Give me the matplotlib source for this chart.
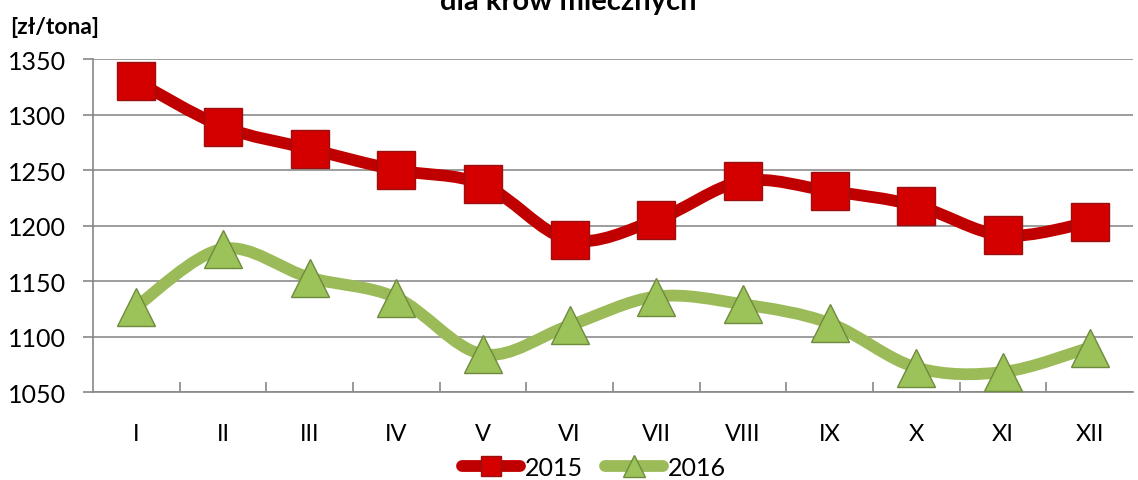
import matplotlib
matplotlib.use("Agg")
import matplotlib.pyplot as plt
from matplotlib.path import Path
from matplotlib.patches import PathPatch
from matplotlib.lines import Line2D
import numpy as np

months = ["I", "II", "III", "IV", "V", "VI", "VII", "VIII", "IX", "X", "XI", "XII"]
y2015 = [1330, 1289, 1269, 1250, 1237, 1187, 1205, 1240, 1231, 1218, 1191, 1203]
y2016 = [1127, 1179, 1153, 1135, 1084, 1110, 1136, 1129, 1112, 1072, 1068, 1090]
yticks = [1050, 1100, 1150, 1200, 1250, 1300, 1350]
title = "dla krów mlecznych"
ylabel = "[zł/tona]"

plt.rcParams['font.family'] = ['Lato', 'DejaVu Sans']

fig = plt.figure(figsize=(11.38, 4.81), dpi=100)
ax = fig.add_axes([93/1138, 1 - 393/481, (1133 - 93)/1138, (393 - 60)/481])

def smooth_path(xs, ys):
    pts = np.column_stack([xs, ys]).astype(float)
    n = len(pts)
    verts = [pts[0]]
    codes = [Path.MOVETO]
    for i in range(n - 1):
        p0 = pts[i - 1] if i > 0 else pts[i]
        p1 = pts[i]
        p2 = pts[i + 1]
        p3 = pts[i + 2] if i + 2 < n else pts[i + 1]
        c1 = p1 + (p2 - p0) / 6.0
        c2 = p2 - (p3 - p1) / 6.0
        verts += [c1, c2, p2]
        codes += [Path.CURVE4] * 3
    return Path(verts, codes)

x = np.arange(len(months))
red_line = "#C00000"
green_line = "#9BBB59"

for ys, col in [(y2015, red_line), (y2016, green_line)]:
    patch = PathPatch(smooth_path(x, ys), facecolor="none", edgecolor=col,
                      lw=8.5, capstyle="round", joinstyle="round", zorder=3)
    ax.add_patch(patch)

ax.plot(x, y2015, ls="none", marker="s", ms=27, mfc="#D40000", mec="#9A1010",
        mew=1.0, zorder=4)
ax.plot(x, y2016, ls="none", marker="^", ms=27, mfc="#9CC25A", mec="#6E8B3D",
        mew=1.0, zorder=4)

ax.set_xlim(-0.5, 11.5)
ax.set_ylim(1050, 1350)
ax.set_yticks(yticks)
ax.set_xticks(x)
ax.set_xticklabels(months)
ax.set_xticks(np.arange(0.5, 11.5, 1.0), minor=True)
ax.tick_params(axis="x", which="major", length=0, labelsize=17, pad=22)
ax.tick_params(axis="x", which="minor", direction="in", length=7.2,
               color="#878787", width=1.2)
ax.tick_params(axis="y", which="major", direction="out", length=7.2,
               color="#878787", width=1.2, labelsize=18, pad=12)
ax.grid(axis="y", color="#8C8C8C", lw=1.2, zorder=1)
ax.set_axisbelow(True)
for s in ["top", "right"]:
    ax.spines[s].set_visible(False)
for s in ["left", "bottom"]:
    ax.spines[s].set_color("#878787")
    ax.spines[s].set_linewidth(1.2)

fig.text(10/1138, 1 - 34/481, ylabel, fontsize=16.5, fontweight="bold",
         ha="left", va="baseline")
fig.text(568/1138, 1 - 10/481, title, fontsize=21, fontweight="bold",
         ha="center", va="baseline")

handles = [
    Line2D([], [], color=red_line, lw=8.5, marker="s", ms=15, mfc="#D40000",
           mec="#9A1010", solid_capstyle="round"),
    Line2D([], [], color=green_line, lw=8.5, marker="^", ms=16, mfc="#9CC25A",
           mec="#6E8B3D", solid_capstyle="round"),
]
fig.legend(handles, ["2015", "2016"], loc="center", bbox_to_anchor=(594/1138, 1 - 468/481),
           ncol=2, frameon=False, fontsize=18, handlelength=2.3, handletextpad=0.2,
           columnspacing=0.9)

fig.savefig("out.png", dpi=100)
